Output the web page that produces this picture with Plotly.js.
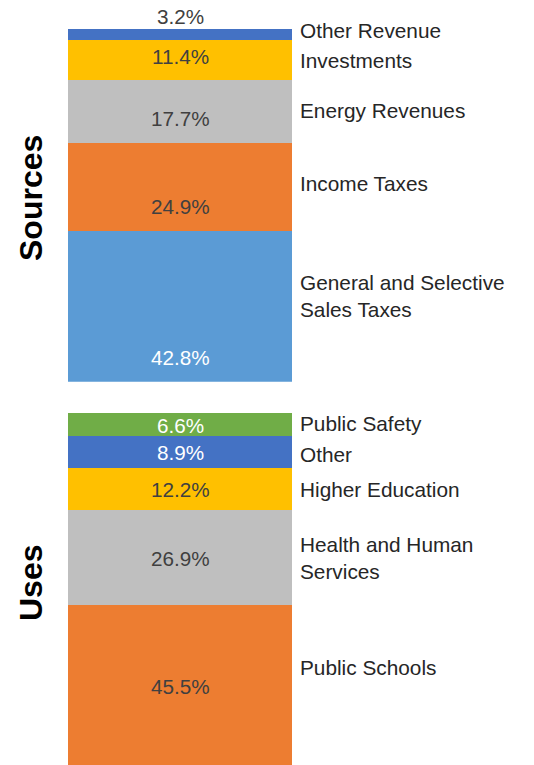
<!DOCTYPE html>
<html>
<head>
<meta charset="utf-8">
<script src="https://cdn.plot.ly/plotly-3.0.1.min.js"></script>
<style>html,body{margin:0;padding:0;background:#fff;}#chart{width:534px;height:765px;}</style>
</head>
<body>
<div id="chart"></div>
<script>
// ---- data (bottom to top) ----
const sourceCategories = ["General and Selective<br>Sales Taxes", "Income Taxes", "Energy Revenues", "Investments", "Other Revenue"];
const sourceValues = [42.8, 24.9, 17.7, 11.4, 3.2];
const useCategories = ["Public Schools", "Health and Human<br>Services", "Higher Education", "Other", "Public Safety"];
const useValues = [45.5, 26.9, 12.2, 8.9, 6.6];

// ---- styles ----
const sourceColors = ["#5B9BD5", "#ED7D31", "#BFBFBF", "#FFC000", "#4472C4"];
const sourceTextColors = ["#FFFFFF", "#404040", "#404040", "#404040", "#404040"];
const sourceNameShift = [10, 3, 1, 0, 4];
const useColors = ["#ED7D31", "#BFBFBF", "#FFC000", "#4472C4", "#70AD47"];
const useTextColors = ["#404040", "#404040", "#404040", "#FFFFFF", "#FFFFFF"];
const useNameShift = [18, 0, -1, -3, 1];

const FONT = "Arial, 'Liberation Sans', sans-serif";
const W = 534, H = 765;
const px = v => v / W;
const py = v => (H - v) / H;

const traces = [];
const annotations = [];

function addGroup(cats, vals, colors, textColors, nameShift, xa, ya, labelAtBase) {
  let base = 0;
  vals.forEach((v, i) => {
    traces.push({
      type: "bar", x: [0], y: [v], width: [1],
      xaxis: xa, yaxis: ya,
      marker: { color: colors[i], line: { width: 0 } },
      hoverinfo: "skip", showlegend: false, textposition: "none"
    });
    // value label
    annotations.push({
      xref: xa, yref: ya, x: 0,
      y: labelAtBase ? base : base + v / 2,
      yshift: labelAtBase ? 24 : -1,
      text: v.toFixed(1) + "%", showarrow: false,
      xanchor: "center", yanchor: "middle",
      font: { family: FONT, size: 20.7, color: textColors[i] }
    });
    // category label
    annotations.push({
      xref: xa, yref: ya, x: 0.5, xshift: 6,
      y: base + v / 2, yshift: nameShift[i],
      text: cats[i], showarrow: false, align: "left",
      xanchor: "left", yanchor: "middle",
      font: { family: FONT, size: 20.8, color: "#262626" }
    });
    base += v;
  });
}

addGroup(sourceCategories, sourceValues, sourceColors, sourceTextColors, sourceNameShift, "x", "y", true);
addGroup(useCategories, useValues, useColors, useTextColors, useNameShift, "x2", "y2", false);

const sourceTotal = sourceValues.reduce((a, b) => a + b, 0);
const useTotal = useValues.reduce((a, b) => a + b, 0);

annotations.push({
  xref: "paper", yref: "paper", x: px(31), y: py(198), text: "<b>Sources</b>",
  textangle: -90, showarrow: false, xanchor: "center", yanchor: "middle",
  font: { family: FONT, size: 32, color: "#000000" }
});
annotations.push({
  xref: "paper", yref: "paper", x: px(31), y: py(583), text: "<b>Uses</b>",
  textangle: -90, showarrow: false, xanchor: "center", yanchor: "middle",
  font: { family: FONT, size: 32, color: "#000000" }
});

const hiddenX = { range: [-0.5, 0.5], domain: [px(68), px(292)], showticklabels: false, showgrid: false, zeroline: false, showline: false, ticks: "", fixedrange: true };
const layout = {
  width: W, height: H,
  margin: { l: 0, r: 0, t: 0, b: 0 },
  paper_bgcolor: "#fff", plot_bgcolor: "rgba(0,0,0,0)",
  barmode: "stack", bargap: 0,
  xaxis: Object.assign({}, hiddenX, { anchor: "y" }),
  xaxis2: Object.assign({}, hiddenX, { anchor: "y2" }),
  yaxis: { range: [0, sourceTotal], domain: [py(381.7), py(29)], anchor: "x", showticklabels: false, showgrid: false, zeroline: false, showline: false, ticks: "" },
  yaxis2: { range: [0, useTotal], domain: [py(765), py(413)], anchor: "x2", showticklabels: false, showgrid: false, zeroline: false, showline: false, ticks: "" },
  annotations: annotations,
  font: { family: FONT }
};

Plotly.newPlot("chart", traces, layout, { displayModeBar: false, staticPlot: true });
</script>
</body>
</html>
